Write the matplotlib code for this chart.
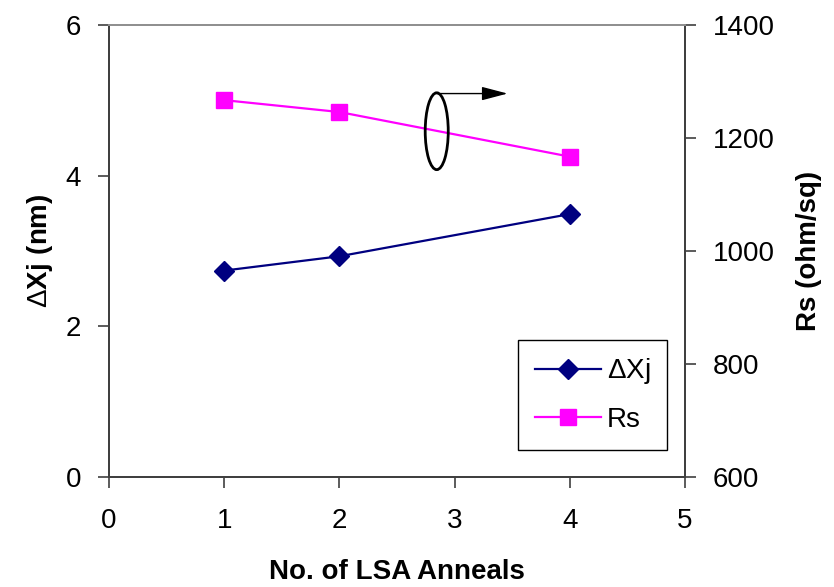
import matplotlib
matplotlib.use("Agg")
import matplotlib.pyplot as plt
from matplotlib.patches import Ellipse

anneals = [1, 2, 4]
delta_xj = [2.74, 2.93, 3.49]
rs = [1267, 1246, 1167]
x_ticks = [0, 1, 2, 3, 4, 5]
left_ticks = [0, 2, 4, 6]
right_ticks = [600, 800, 1000, 1200, 1400]

plt.rcParams['font.family'] = ['Liberation Sans', 'DejaVu Sans']
plt.rcParams['mathtext.fontset'] = 'custom'
plt.rcParams['mathtext.rm'] = 'Liberation Sans'
plt.rcParams['mathtext.bf'] = 'Liberation Sans:bold'

fig = plt.figure(figsize=(8.34, 5.87), dpi=100)
ax = fig.add_axes([0.1307, 0.1874, 0.6906, 0.77])
ax2 = ax.twinx()

navy = '#000080'
mag = '#FF00FF'
spc = '#404040'

l1, = ax.plot(anneals, delta_xj, color=navy, lw=1.6, marker='D', ms=10.5,
              mec=navy, mfc=navy, label=r'$\Delta$Xj', zorder=3)
l2, = ax2.plot(anneals, rs, color=mag, lw=1.6, marker='s', ms=12,
               mec=mag, mfc=mag, label='Rs', zorder=3)

ax.set_xlim(0, 5)
ax.set_ylim(0, 6)
ax2.set_ylim(600, 1400)
ax.set_xticks(x_ticks)
ax.set_yticks(left_ticks)
ax2.set_yticks(right_ticks)

for a in (ax, ax2):
    for s in a.spines.values():
        s.set_color(spc)
        s.set_linewidth(1.4)
    a.spines['top'].set_color('#909090')
    a.tick_params(labelsize=20, color=spc, width=1.2, length=8, pad=12)
ax.tick_params(axis='x', pad=14)

ax.set_xlabel('No. of LSA Anneals', fontsize=20, fontweight='bold', labelpad=18)
ax.set_ylabel(r'$\Delta\mathbf{Xj\ (nm)}$', fontsize=20, labelpad=8)
ax2.set_ylabel('Rs (ohm/sq)', fontsize=20, fontweight='bold', labelpad=15)

# ellipse + arrow annotation (points to right axis)
ell = Ellipse((2.845, 4.59), 0.2, 1.02, transform=ax.transData,
              fill=False, ec='black', lw=2.0, zorder=5)
ax2.add_patch(ell)
ax2.annotate('', xy=(3.46, 5.09), xycoords=ax.transData,
             xytext=(2.845, 5.09), textcoords=ax.transData,
             arrowprops=dict(arrowstyle='-|>,head_length=1.6,head_width=0.42',
                             color='black', lw=1.0, shrinkA=0, shrinkB=0),
             zorder=5)

leg = ax2.legend(handles=[l1, l2], loc='lower left', bbox_to_anchor=(0.71, 0.06),
                 fontsize=20, frameon=True, fancybox=False, edgecolor='black',
                 handlelength=2.4, handletextpad=0.2, labelspacing=0.75,
                 borderpad=0.6, borderaxespad=0)
leg.get_frame().set_linewidth(1.0)
leg.get_frame().set_alpha(1)

fig.savefig('out.png', dpi=100)
